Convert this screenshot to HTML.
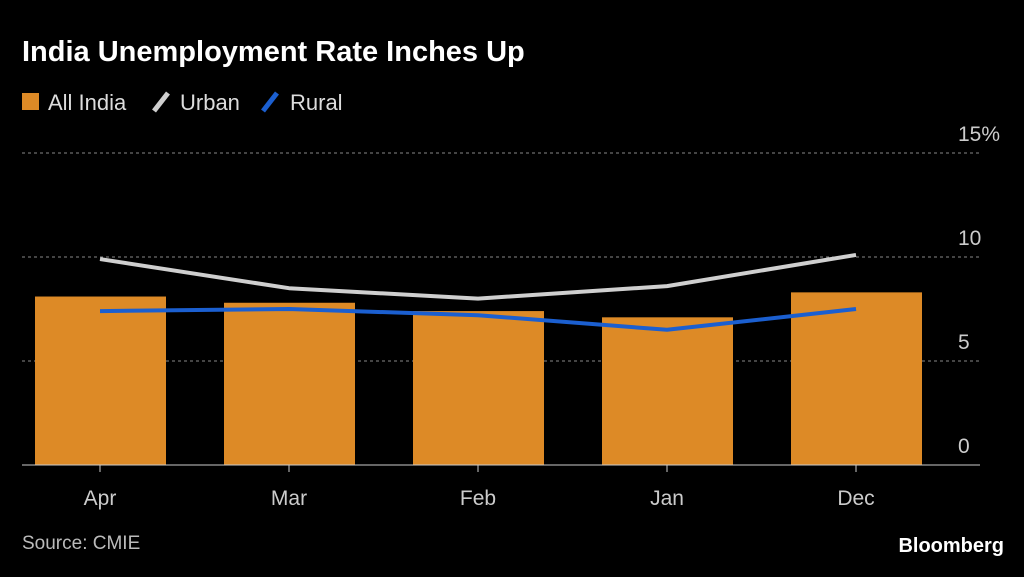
<!DOCTYPE html>
<html><head><meta charset="utf-8"><style>
body{margin:0;background:#000;width:1024px;height:572px;overflow:hidden;font-family:"Liberation Sans",sans-serif;color:#fff}
</style></head><body>
<svg width="1024" height="572">
<text x="22" y="61" font-size="29" font-weight="bold" fill="#fff">India Unemployment Rate Inches Up</text>
<g>
<rect x="22" y="93" width="17" height="17" fill="#dd8a26"/>
<text x="48" y="110" font-size="22" fill="#ddd">All India</text>
<line x1="154" y1="111" x2="168" y2="93" stroke="#cfcfcf" stroke-width="5"/>
<text x="180" y="110" font-size="22" fill="#ddd">Urban</text>
<line x1="263" y1="111" x2="277" y2="93" stroke="#1b5fd0" stroke-width="5"/>
<text x="290" y="110" font-size="22" fill="#ddd">Rural</text>
</g>
<g id="plot"></g>
<text x="22" y="549" font-size="19" fill="#bbb">Source: CMIE</text>
<text x="1004" y="552" font-size="20" font-weight="bold" fill="#fff" text-anchor="end">Bloomberg</text>
</svg>
<script>
const categories=["Apr","Mar","Feb","Jan","Dec"];
const allIndia=[8.1,7.8,7.4,7.1,8.3];
const urban=[9.9,8.5,8.0,8.6,10.1];
const rural=[7.4,7.5,7.2,6.5,7.5];
const yTicks=[0,5,10,15];
const yTickLabels=["0","5","10","15%"];
const ns="http://www.w3.org/2000/svg";
const g=document.getElementById("plot");
const y=v=>465-v*20.8;
const x=i=>100+i*189;
function mk(t,a){const e=document.createElementNS(ns,t);for(const k in a)e.setAttribute(k,a[k]);g.appendChild(e);return e;}
yTicks.forEach((t,i)=>{
 if(t>0){const l=mk("line",{x1:22,x2:980,y1:y(t),y2:y(t),stroke:"#888","stroke-dasharray":"3,3","stroke-width":1});
 
 }
 const tx=mk("text",{x:958,y:y(t)-12,"font-size":21,fill:"#ccc"});tx.textContent=yTickLabels[i];
 
 
});
allIndia.forEach((v,i)=>{
 const r=mk("rect",{x:x(i)-65,y:y(v),width:131,height:465-y(v),fill:"#dd8a26"});
 
 
});
const ax=mk("line",{x1:22,x2:980,y1:465,y2:465,stroke:"#ccc","stroke-width":1});


categories.forEach((c,i)=>{
 const tk=mk("line",{x1:x(i),x2:x(i),y1:465,y2:472,stroke:"#ccc"});
 
 
 const t=mk("text",{x:x(i),y:505,"font-size":21,fill:"#ccc","text-anchor":"middle"});t.textContent=c;
 
 
});
function line(d,col,name){
 const p=mk("polyline",{points:d.map((v,i)=>x(i)+","+y(v)).join(" "),fill:"none",stroke:col,"stroke-width":4,"stroke-linejoin":"round"});
 
 
}
line(urban,"#cfcfcf","urban-line");
line(rural,"#1b5fd0","rural-line");
</script>
</body></html>
